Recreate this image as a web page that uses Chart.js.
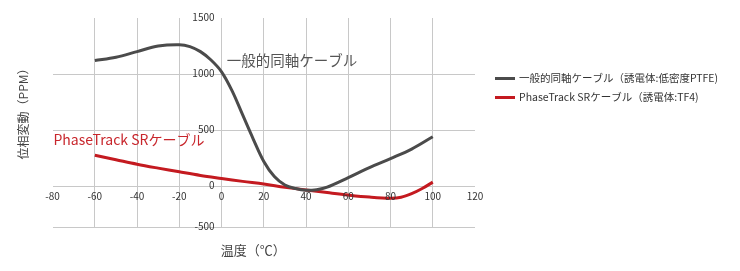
<!DOCTYPE html>
<html lang="ja">
<head>
<meta charset="utf-8">
<script src="https://cdn.jsdelivr.net/npm/chart.js@4.4.0/dist/chart.umd.min.js"></script>
<style>
html, body { margin: 0; padding: 0; background: #fff; }
canvas { display: block; }
</style>
</head>
<body>
<canvas id="chartFase" width="740" height="271"></canvas>
<script>
// Datos
const tempCoaxial = [-60, -50, -40, -30, -20, -15, -10, -5, 0, 5, 10, 15, 20, 25, 30, 35, 40, 45, 50, 60, 70, 80, 90, 100];
const valCoaxial = [1120, 1150, 1200, 1250, 1262, 1245, 1200, 1125, 1020, 850, 635, 420, 220, 85, 10, -22, -38, -32, -10, 75, 165, 245, 330, 440];

const tempPhase = [-60, -50, -40, -30, -20, -10, 0, 10, 20, 30, 40, 50, 60, 70, 80, 85, 90, 95, 100];
const valPhase = [275, 235, 195, 160, 127, 95, 68, 42, 18, -10, -35, -58, -80, -98, -108, -100, -68, -22, 35];

const leyendas = ['一般的同軸ケーブル（誘電体:低密度PTFE)', 'PhaseTrack SRケーブル（誘電体:TF4)'];
const etiquetasSerie = ['一般的同軸ケーブル', 'PhaseTrack SRケーブル'];

const xTicks = [-80, -60, -40, -20, 0, 20, 40, 60, 80, 100, 120];
const yTicks = [-500, 0, 500, 1000, 1500];
// en el original la línea -500 está dibujada más arriba de lo que tocaría
const yAbajo = -368;

const FUENTE = '"Noto Sans CJK JP", "Noto Sans", sans-serif';

const textosPlugin = {
    id: 'textos',
    afterDatasetsDraw(chart) {
        const { ctx, chartArea, scales: { x, y } } = chart;
        ctx.save();

        // etiquetas eje y junto a x=0
        ctx.font = `10px ${FUENTE}`;
        ctx.fillStyle = '#333';
        ctx.textAlign = 'right';
        ctx.textBaseline = 'middle';
        y.ticks.forEach((t, i) => {
            ctx.fillText(String(yTicks[i]), x.getPixelForValue(0) - 7, y.getPixelForValue(t.value) - 1);
        });

        // etiquetas eje x bajo y=0
        ctx.textAlign = 'center';
        x.ticks.forEach(t => {
            ctx.fillText(String(t.value), x.getPixelForValue(t.value), y.getPixelForValue(0) + 10.5);
        });

        // nombres de las series dentro del gráfico
        ctx.textAlign = 'left';
        ctx.font = `14.5px ${FUENTE}`;
        ctx.fillStyle = '#555';
        ctx.fillText(etiquetasSerie[0], x.getPixelForValue(2.4), y.getPixelForValue(1118));
        ctx.font = `14px ${FUENTE}`;
        ctx.fillStyle = '#c8262c';
        ctx.fillText(etiquetasSerie[1], x.getPixelForValue(-79.6), y.getPixelForValue(418));

        // títulos de ejes
        ctx.fillStyle = '#444';
        ctx.font = `13px ${FUENTE}`;
        ctx.textAlign = 'center';
        ctx.fillText('温度（℃）', x.getPixelForValue(15), chartArea.bottom + 23);

        ctx.font = `12px ${FUENTE}`;
        ctx.translate(23, 111);
        ctx.rotate(-Math.PI / 2);
        ctx.fillText('位相変動（PPM）', 0, 0);
        ctx.restore();

        // leyenda a la derecha
        ctx.save();
        ctx.font = `10.5px ${FUENTE}`;
        ctx.textAlign = 'left';
        ctx.textBaseline = 'middle';
        chart.data.datasets.forEach((ds, i) => {
            const yy = 78.5 + i * 19;
            ctx.strokeStyle = ds.borderColor;
            ctx.lineWidth = 3;
            ctx.beginPath();
            ctx.moveTo(495, yy);
            ctx.lineTo(515, yy);
            ctx.stroke();
            ctx.fillStyle = '#333';
            ctx.fillText(leyendas[i], 519, yy);
        });
        ctx.restore();
    }
};

new Chart(document.getElementById('chartFase'), {
    type: 'line',
    data: {
        datasets: [{
            label: leyendas[0],
            data: tempCoaxial.map((t, i) => ({ x: t, y: valCoaxial[i] })),
            borderColor: '#4b4b4b',
            borderWidth: 3,
            pointRadius: 0,
            tension: 0.35
        }, {
            label: leyendas[1],
            data: tempPhase.map((t, i) => ({ x: t, y: valPhase[i] })),
            borderColor: '#c41a20',
            borderWidth: 3,
            pointRadius: 0,
            tension: 0.35
        }]
    },
    options: {
        responsive: false,
        animation: false,
        layout: { autoPadding: false, padding: { left: 52.6, top: 18, right: 265, bottom: 43.7 } },
        plugins: { legend: { display: false }, tooltip: { enabled: false } },
        scales: {
            x: {
                type: 'linear',
                min: -80,
                max: 120,
                afterBuildTicks: s => { s.ticks = xTicks.map(v => ({ value: v })); },
                ticks: { display: false },
                border: { display: false },
                grid: {
                    drawTicks: false,
                    lineWidth: 1,
                    color: c => (c.tick && (c.tick.value === -80 || c.tick.value === 120)) ? 'rgba(0,0,0,0)' : '#c8c8c8'
                }
            },
            y: {
                min: yAbajo,
                max: 1500,
                afterBuildTicks: s => { s.ticks = yTicks.map(v => ({ value: v === -500 ? yAbajo : v })); },
                ticks: { display: false },
                border: { display: false },
                grid: {
                    drawTicks: false,
                    lineWidth: 1,
                    color: c => (c.tick && c.tick.value === 1500) ? 'rgba(0,0,0,0)' : '#c8c8c8'
                }
            }
        }
    },
    plugins: [textosPlugin]
});
</script>
</body>
</html>
